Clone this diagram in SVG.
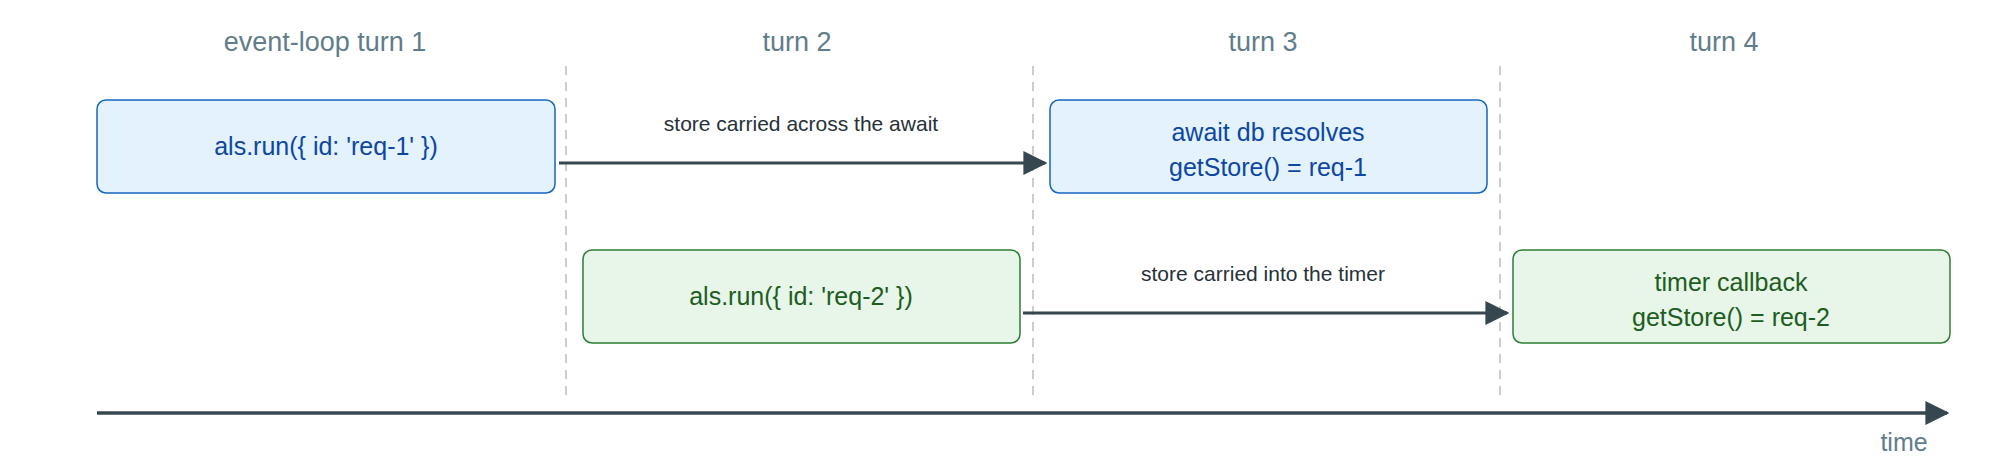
<svg xmlns="http://www.w3.org/2000/svg" width="2000" height="475" viewBox="0 0 2000 475">
<style>
text{font-family:"Liberation Sans",Arial,sans-serif;text-anchor:middle}
.h{font-size:27px;fill:#607d8b}
.blue rect{fill:#e3f2fd;stroke:#1565c0;stroke-width:1.5}
.blue text{fill:#0d47a1;font-size:25px}
.green rect{fill:#e8f5e9;stroke:#2e7d32;stroke-width:1.5}
.green text{fill:#1b5e20;font-size:25px}
.lbl{font-size:21px;fill:#263238}
.dash{stroke:#bdbdbd;stroke-width:1.5;stroke-dasharray:9 7}
.conn{stroke:#37474f;stroke-width:3;fill:none;marker-end:url(#ah)}
</style>
<defs>
<marker id="ah" markerWidth="10" markerHeight="10" refX="8" refY="5" orient="auto" markerUnits="userSpaceOnUse" viewBox="0 0 10 10"><path d="M0,0 L10,5 L0,10 z" fill="#37474f"/></marker>
<marker id="ah2" viewBox="0 0 10 10" refX="9" refY="5" markerWidth="24" markerHeight="24" markerUnits="userSpaceOnUse" orient="auto"><path d="M0,0 L10,5 L0,10 z" fill="#37474f"/></marker>
</defs>
<g id="headings">
<text class="h" x="325" y="51">event-loop turn 1</text>
<text class="h" x="797" y="51">turn 2</text>
<text class="h" x="1263" y="51">turn 3</text>
<text class="h" x="1724" y="51">turn 4</text>
</g>
<g id="dividers">
<line class="dash" x1="566" y1="66" x2="566" y2="398"/>
<line class="dash" x1="1033" y1="66" x2="1033" y2="398"/>
<line class="dash" x1="1500" y1="66" x2="1500" y2="398"/>
</g>
<g id="n1" class="blue"><rect x="97" y="100" width="458" height="93" rx="9"/><text x="326" y="155">als.run({ id: 'req-1' })</text></g>
<g id="n2" class="blue"><rect x="1050" y="100" width="437" height="93" rx="9"/><text x="1268" y="141">await db resolves</text><text x="1268" y="176">getStore() = req-1</text></g>
<g id="n3" class="green"><rect x="583" y="250" width="437" height="93" rx="9"/><text x="801" y="305">als.run({ id: 'req-2' })</text></g>
<g id="n4" class="green"><rect x="1513" y="250" width="437" height="93" rx="9"/><text x="1731" y="291">timer callback</text><text x="1731" y="326">getStore() = req-2</text></g>
<g id="connectors">
<line x1="559" y1="163" x2="1045" y2="163" stroke="#37474f" stroke-width="3" marker-end="url(#ah2)"/>
<text class="lbl" x="801" y="131">store carried across the await</text>
<line x1="1023" y1="313" x2="1507" y2="313" stroke="#37474f" stroke-width="3" marker-end="url(#ah2)"/>
<text class="lbl" x="1263" y="281">store carried into the timer</text>
<line x1="97" y1="413" x2="1947" y2="413" stroke="#37474f" stroke-width="3.5" marker-end="url(#ah2)"/>
</g>
<text class="h" x="1904" y="451" style="font-size:25px">time</text>
</svg>
